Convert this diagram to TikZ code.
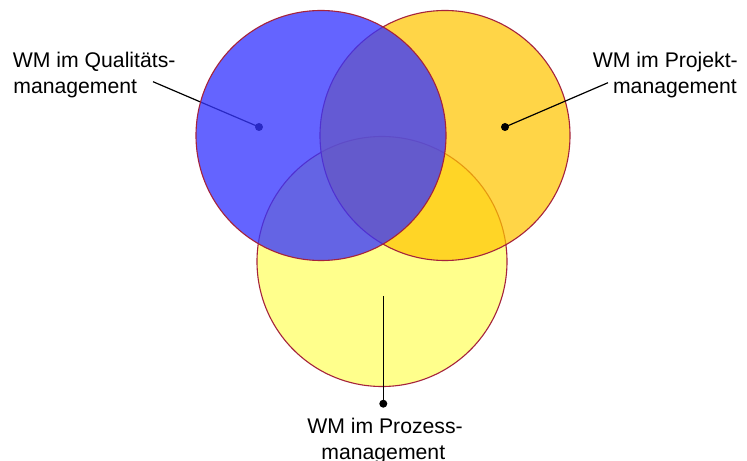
\documentclass[tikz,border=0pt]{standalone}
\usepackage{fontspec}
\setmainfont{Liberation Sans}
\definecolor{ringred}{RGB}{165,35,60}
\definecolor{bluec}{RGB}{54,54,255}
\definecolor{orangec}{RGB}{255,197,0}
\definecolor{yellowc}{RGB}{255,255,140}
\begin{document}
\begin{tikzpicture}[x=1bp,y=-1bp,
  ring/.style={circle, draw=ringred, line width=1.1bp, inner sep=0pt, minimum size=250bp},
  lbl/.style={inner sep=0pt, font=\fontsize{21.2bp}{26bp}\selectfont},
  lead/.style={line width=1.2bp, black},
  dotmark/.style={circle, fill=black, inner sep=0pt, minimum size=8bp}]
\useasboundingbox (0,0) rectangle (747,461);
\fill[white] (0,0) rectangle (747,461);
% circles (yellow bottom, orange middle)
\node[ring, fill=yellowc] (pzc) at (382,261.5) {};
\node[ring, fill=orangec, fill opacity=0.72] (pjc) at (445,135.5) {};
% leaders and dots
\node[dotmark] (zd) at (383.3,403.7) {};
\coordinate (za) at (383.3,296);
\draw[lead] (za) -- (zd.center);
\node[dotmark] (pd) at (505,127) {};
\coordinate (pa) at (608,82.7);
\draw[lead] (pa) -- (pd.center);
\node[dotmark] (qd) at (259,127) {};
\coordinate (qa) at (153,81.7);
\draw[lead] (qa) -- (qd.center);
% blue circle on top
\node[ring, fill=bluec, fill opacity=0.77] (qlc) at (321,135.5) {};
% labels
\node[lbl, anchor=base west] (q1) at (12.7,67.3) {WM im Qualitäts-};
\node[lbl, anchor=base west] (q2) at (13.2,93.3) {management};
\node[lbl, anchor=base east] (p1) at (738,67.3) {WM im Projekt-};
\node[lbl, anchor=base east] (p2) at (737,93.3) {management};
\node[lbl, anchor=base] (z1) at (385,433.3) {WM im Prozess-};
\node[lbl, anchor=base] (z2) at (383.3,459.3) {management};
\end{tikzpicture}
\end{document}
